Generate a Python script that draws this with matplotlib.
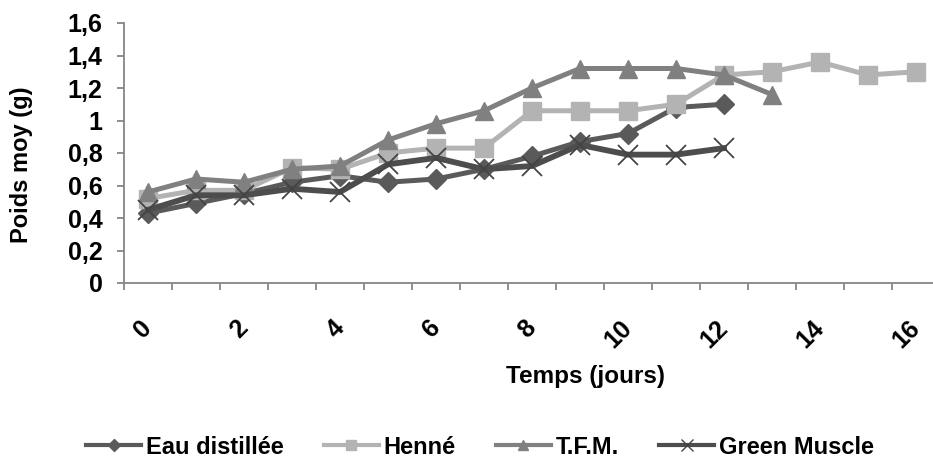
import matplotlib
matplotlib.use("Agg")
import matplotlib.pyplot as plt
import numpy as np

plt.rcParams['font.family'] = ['Liberation Sans', 'DejaVu Sans']
plt.rcParams['font.weight'] = 'bold'

# Mean weight (g) per day for each treatment
days = list(range(17))
eau_distillee = [0.43, 0.49, 0.55, 0.62, 0.66, 0.62, 0.64, 0.70, 0.78, 0.87, 0.92, 1.08, 1.10]
henne = [0.52, 0.57, 0.57, 0.71, 0.70, 0.80, 0.83, 0.83, 1.06, 1.06, 1.06, 1.10, 1.28, 1.30, 1.36, 1.28, 1.30]
tfm = [0.56, 0.64, 0.62, 0.70, 0.72, 0.88, 0.98, 1.06, 1.20, 1.32, 1.32, 1.32, 1.28, 1.16]
green_muscle = [0.45, 0.54, 0.54, 0.58, 0.56, 0.73, 0.77, 0.70, 0.72, 0.85, 0.79, 0.79, 0.83]

series_names = ["Eau distillée", "Henné", "T.F.M.", "Green Muscle"]
y_ticks = [0, 0.2, 0.4, 0.6, 0.8, 1.0, 1.2, 1.4, 1.6]
y_tick_labels = ["0", "0,2", "0,4", "0,6", "0,8", "1", "1,2", "1,4", "1,6"]
x_tick_labels = [str(d) for d in days[::2]]

W, H = 933, 463
fig = plt.figure(figsize=(W / 100, H / 100), dpi=100)
ax = fig.add_axes([124 / W, (H - 283) / H, (940 - 124) / W, (283 - 23) / H])

styles = [
    dict(color="#5a5a5a", marker="D", markersize=10, lw=3.6, mec="#5a5a5a"),
    dict(color="#b3b3b3", marker="s", markersize=13, lw=3.6, mec="#b3b3b3"),
    dict(color="#808080", marker="^", markersize=13, lw=3.6, mec="#808080"),
    dict(color="#4d4d4d", marker="x", markersize=14, lw=4.2, mec="#444444", mew=1.3),
]
data = [eau_distillee, henne, tfm, green_muscle]

for name, vals, st in zip(series_names, data, styles):
    x = days[:len(vals)]
    ax.plot(x, vals, label=name, solid_joinstyle="round", **st)

ax.set_xlim(-0.5, 16.5)
ax.set_ylim(0, 1.6)

spine_col = "#868686"
for s in ["top", "right"]:
    ax.spines[s].set_visible(False)
for s in ["left", "bottom"]:
    ax.spines[s].set_color(spine_col)
    ax.spines[s].set_linewidth(1.3)

ax.set_yticks(y_ticks)
ax.set_yticklabels(y_tick_labels)
ax.tick_params(axis="y", direction="out", length=5, width=1.3, color=spine_col,
               pad=10.5, labelsize=18)

# category boundaries as major ticks, labels on every second category centre
ax.set_xticks(np.arange(-0.5, 17, 1.0))
ax.set_xticklabels([])
ax.tick_params(axis="x", which="major", direction="out", length=5, width=1.3, color=spine_col)
ax.set_xticks(days[::2], minor=True)
ax.set_xticklabels(x_tick_labels, minor=True)
ax.tick_params(axis="x", which="minor", length=0, pad=30, labelsize=18)
for lab in ax.get_xticklabels(minor=True):
    lab.set_rotation(45)
    lab.set_rotation_mode("anchor")
    lab.set_ha("right")
    lab.set_va("center")

ax.set_ylabel("Poids moy (g)", fontsize=17, fontweight="bold")
ax.yaxis.set_label_coords(33 / W, (H - 165) / H, transform=fig.transFigure)
fig.text(586 / W, 1 - 376 / H, "Temps (jours)", ha="center", va="center",
         fontsize=17.5, fontweight="bold")

# legend uses thinner lines and smaller markers than the plotted series
legend_handles = []
for name, st in zip(series_names, styles):
    lst = dict(st)
    lst["lw"] = 3.0
    lst["markersize"] = st["markersize"] * 0.6
    if "mew" in lst:
        lst["mew"] = 1.0
    h, = ax.plot([], [], label=name, **lst)
    legend_handles.append(h)

fig.legend(handles=legend_handles, loc="center", ncol=4, frameon=False,
           bbox_to_anchor=(480 / W, 1 - 447 / H), fontsize=17,
           handlelength=2.33, columnspacing=1.7, handletextpad=0.2)

fig.savefig("out.png", dpi=100)
